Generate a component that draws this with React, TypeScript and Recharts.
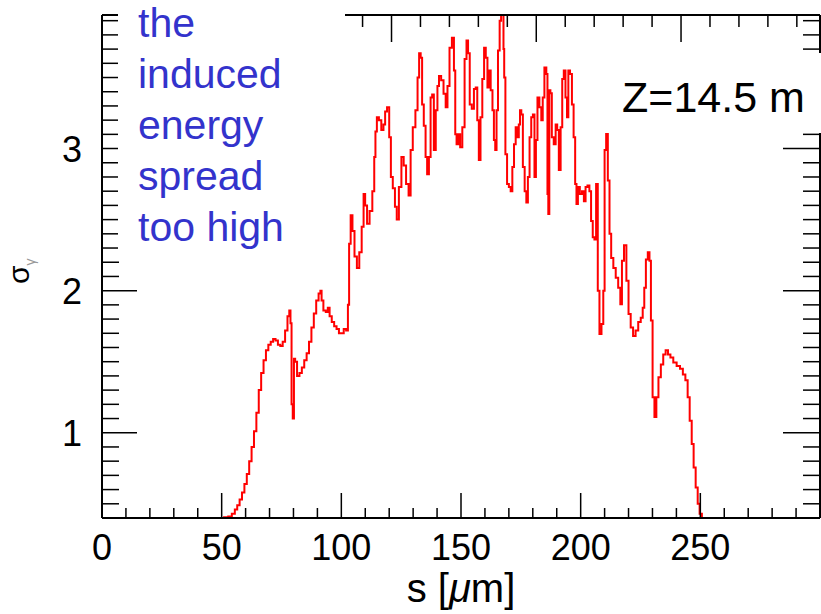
import React from 'react'
import { LineChart, Line, XAxis, YAxis } from 'recharts'

// s positions (µm) and the sigma value
const sPos = [
  50, 52, 53.5, 55, 56, 57, 58, 59, 60, 61, 62, 63, 64, 65, 66, 67, 68, 69, 70, 71,
  72, 73, 74, 75, 76, 77, 78, 78.5, 79, 79.4, 80, 80.4, 81, 82, 83, 84, 85, 86, 87, 88,
  89, 90, 91, 91.5, 92, 93, 94, 94.7, 95.5, 96.5, 97.5, 98.5, 99.5, 100.5, 101.5, 102.5, 103, 103.5, 104.3, 105,
  106, 107, 108, 109, 109.6, 110.3, 111.2, 112.4, 113.5, 114, 114.5, 115.2, 116.2, 117.2, 118, 118.6, 119.6, 120.4, 121, 122,
  122.8, 123.5, 124.6, 125.6, 126.5, 127.6, 128.6, 129.3, 130.4, 131.5, 132.2, 132.8, 133.5, 134, 134.9, 135.5, 136.2, 137, 137.6, 138.3,
  139, 139.9, 140.4, 141.2, 142.2, 143.2, 144, 144.7, 145.7, 146.7, 147.4, 147.8, 148.5, 149.2, 150.1, 151, 152, 152.6, 153.3, 154,
  155, 155.8, 156.5, 157.1, 157.8, 158.5, 159.3, 160, 160.7, 161.4, 162, 162.8, 163.5, 164, 164.6, 165.1, 165.8, 166.5, 167, 167.6,
  167.9, 168.2, 168.9, 169.6, 170.4, 171.1, 171.8, 172.5, 173.2, 173.9, 174.4, 174.9, 175.5, 176.2, 177, 177.6, 178.3, 179, 179.7, 180.4,
  181, 181.6, 182.3, 183.2, 183.9, 184.4, 185.3, 186, 186.25, 186.7, 187.1, 187.6, 188.3, 189.2, 189.9, 190.5, 191.25, 192, 192.6, 193.3,
  194, 194.6, 195.1, 196, 196.7, 197.4, 198, 198.5, 199.2, 200.1, 201, 201.7, 202.4, 203.3, 204, 204.7, 205.4, 206.1, 206.8, 207.5,
  208.2, 209.2, 209.7, 210.3, 211, 211.7, 212.4, 213.1, 214.2, 215.1, 216.25, 216.9, 217.6, 218.6, 219.6, 220.4, 221.4, 222.4, 223.5, 224.6,
  225.6, 226.25, 226.9, 227.6, 228.5, 229, 229.7, 230.4, 231.25, 232, 233, 234, 235, 236, 237, 238, 239.4, 240.8, 242.2, 243.2,
  244.3, 245.1, 246, 246.8, 247.6, 248.5, 249.3, 250.1, 251.2,
]
const sigma = [
  0.4, 0.405, 0.41, 0.43, 0.46, 0.49, 0.53, 0.58, 0.64, 0.71, 0.8, 0.9, 1.01, 1.14, 1.3, 1.42, 1.51, 1.58, 1.62, 1.64,
  1.66, 1.65, 1.62, 1.61, 1.64, 1.72, 1.82, 1.86, 1.77, 1.2, 1.1, 1.52, 1.5, 1.4, 1.42, 1.46, 1.51, 1.56, 1.64, 1.74,
  1.84, 1.93, 1.98, 2.0, 1.93, 1.86, 1.85, 1.88, 1.82, 1.78, 1.75, 1.73, 1.7, 1.7, 1.73, 1.72, 1.9, 2.33, 2.53, 2.42,
  2.24, 2.16, 2.27, 2.45, 2.68, 2.6, 2.47, 2.56, 2.7, 2.94, 3.12, 3.22, 3.2, 3.13, 3.17, 3.26, 3.29, 3.08, 2.8, 2.72,
  2.59, 2.5, 2.73, 2.94, 2.88, 2.75, 2.67, 2.99, 3.15, 3.27, 3.5, 3.67, 3.64, 3.31, 3.16, 2.94, 2.82, 2.94, 3.36, 3.38,
  2.99, 3.27, 3.44, 3.51, 3.48, 3.385, 3.29, 3.44, 3.71, 3.78, 3.55, 3.1, 3.03, 3.1, 3.01, 3.15, 3.63, 3.76, 3.67, 3.31,
  3.28, 3.42, 3.43, 3.2, 2.92, 3.22, 3.49, 3.71, 3.64, 3.43, 3.55, 3.41, 3.27, 3.06, 2.99, 3.27, 3.69, 3.9, 4.05, 4.05,
  3.7, 3.5, 2.96, 2.75, 2.73, 2.7, 2.87, 3.03, 3.15, 3.08, 3.17, 3.27, 3.24, 2.87, 2.7, 2.62, 2.8, 3.08, 3.22, 3.24,
  2.8, 3.06, 3.36, 3.29, 3.2, 3.36, 3.57, 3.525, 2.68, 2.54, 3.41, 3.39, 3.08, 3.03, 3.17, 3.13, 2.85, 3.15, 3.49, 3.55,
  3.36, 3.22, 3.55, 3.525, 3.31, 3.08, 2.75, 2.61, 2.73, 2.68, 2.7, 2.63, 2.73, 2.74, 2.7, 2.49, 2.375, 2.36, 2.75, 2.0,
  1.695, 1.765, 2.0, 2.99, 3.13, 2.775, 2.4, 2.23, 2.16, 2.09, 2.02, 1.905, 2.21, 2.32, 2.07, 1.835, 1.74, 1.68, 1.72, 1.78,
  1.81, 1.88, 2.02, 2.22, 2.27, 2.21, 1.79, 1.25, 1.11, 1.25, 1.39, 1.48, 1.55, 1.58, 1.55, 1.53, 1.495, 1.47, 1.45, 1.41,
  1.37, 1.25, 1.085, 0.92, 0.755, 0.615, 0.5, 0.43, 0.4,
]

const xMajor = [0, 50, 100, 150, 200, 250]
const xTicks = [
  0, 10, 20, 30, 40, 50, 60, 70, 80, 90, 100, 110, 120, 130, 140, 150, 160, 170, 180, 190,
  200, 210, 220, 230, 240, 250, 260, 270, 280, 290,
]
const yMajor = [1, 2, 3]
const yTicks = [
  0.5, 0.6, 0.7, 0.8, 0.9, 1, 1.1, 1.2, 1.3, 1.4, 1.5, 1.6, 1.7, 1.8, 1.9, 2, 2.1, 2.2,
  2.3, 2.4, 2.5, 2.6, 2.7, 2.8, 2.9, 3, 3.1, 3.2, 3.3, 3.4, 3.5, 3.6, 3.7, 3.8, 3.9,
]

const note = ['the', 'induced', 'energy', 'spread', 'too high']

const data = sPos.map((s, i) => ({ s, sigma: sigma[i] }))

const font = '"Liberation Sans", Arial, Helvetica, sans-serif'
const axisLine = { stroke: '#000', strokeWidth: 2 }

function BottomTick(props: any) {
  const { x, y, payload } = props
  const major = xMajor.includes(payload.value)
  return (
    <g>
      <line x1={x} x2={x} y1={y} y2={y - (major ? 25 : 10)} stroke="#000" strokeWidth={1.5} />
      {major && (
        <text x={x} y={y + 42} textAnchor="middle" fontSize={36} fill="#000" fontFamily={font}>
          {payload.value}
        </text>
      )}
    </g>
  )
}

function TopTick(props: any) {
  const { x, y, payload } = props
  const major = xMajor.includes(payload.value)
  return <line x1={x} x2={x} y1={y} y2={y + (major ? 27 : 12)} stroke="#000" strokeWidth={1.5} />
}

function LeftTick(props: any) {
  const { x, y, payload } = props
  const major = yMajor.includes(payload.value)
  return (
    <g>
      <line x1={x} x2={x + (major ? 35 : 17)} y1={y} y2={y} stroke="#000" strokeWidth={1.5} />
      {major && (
        <text x={x - 20} y={y + 13} textAnchor="end" fontSize={36} fill="#000" fontFamily={font}>
          {payload.value}
        </text>
      )}
    </g>
  )
}

function RightTick(props: any) {
  const { x, y, payload } = props
  const major = yMajor.includes(payload.value)
  return <line x1={x} x2={x - (major ? 37 : 17)} y1={y} y2={y} stroke="#000" strokeWidth={1.5} />
}

export default function App() {
  return (
    <div style={{ position: 'absolute', left: 0, top: 0, width: 821, height: 614, background: '#fff' }}>
      <LineChart width={821} height={614} data={data} margin={{ top: 0, right: 0, bottom: 0, left: 0 }}>
        <XAxis
          xAxisId="bottom"
          type="number"
          dataKey="s"
          domain={[0, 300]}
          allowDataOverflow
          ticks={xTicks}
          interval={0}
          height={96}
          tickSize={0}
          tickMargin={0}
          tickLine={false}
          axisLine={axisLine}
          tick={(p: any) => <BottomTick {...p} />}
        />
        <XAxis
          xAxisId="top"
          orientation="top"
          type="number"
          domain={[0, 300]}
          allowDataOverflow
          ticks={xTicks}
          interval={0}
          height={15}
          tickSize={0}
          tickMargin={0}
          tickLine={false}
          axisLine={axisLine}
          tick={(p: any) => <TopTick {...p} />}
        />
        <YAxis
          yAxisId="left"
          type="number"
          domain={[0.4, 3.94]}
          allowDataOverflow
          ticks={yTicks}
          interval={0}
          width={102}
          tickSize={0}
          tickMargin={0}
          tickLine={false}
          axisLine={axisLine}
          tick={(p: any) => <LeftTick {...p} />}
        />
        <YAxis
          yAxisId="right"
          orientation="right"
          type="number"
          domain={[0.4, 3.94]}
          allowDataOverflow
          ticks={yTicks}
          interval={0}
          width={1}
          tickSize={0}
          tickMargin={0}
          tickLine={false}
          axisLine={axisLine}
          tick={(p: any) => <RightTick {...p} />}
        />
        <Line
          xAxisId="bottom"
          yAxisId="left"
          type="step"
          dataKey="sigma"
          stroke="#ff0000"
          strokeWidth={2}
          dot={false}
          activeDot={false}
          isAnimationActive={false}
        />
      </LineChart>
      <svg
        width={821}
        height={614}
        style={{ position: 'absolute', left: 0, top: 0, pointerEvents: 'none' }}
        fontFamily={font}
      >
        <rect x={118} y={0} width={227} height={250} fill="#fff" />
        {note.map((line, i) => (
          <text key={line} x={138} y={37 + i * 51} fontSize={41} fill="#3333cc">
            {line}
          </text>
        ))}
        <rect x={603} y={53} width={218} height={80} fill="#fff" />
        <text x={622} y={112} fontSize={43} fill="#000">
          Z=14.5 m
        </text>
        <text x={461} y={602} fontSize={40} fill="#000" textAnchor="middle">
          s [<tspan fontStyle="italic">μ</tspan>m]
        </text>
        <text transform="translate(29,284) rotate(-90)" fontSize={30} fill="#000">
          σ
          <tspan fontSize={14} fill="#999" dy={6}>
            γ
          </tspan>
        </text>
      </svg>
    </div>
  )
}
